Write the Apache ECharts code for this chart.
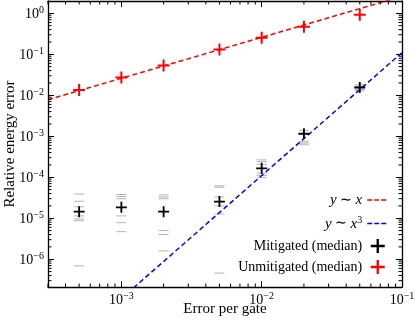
<!DOCTYPE html>
<html>
<head>
<meta charset="utf-8">
<script src="https://cdn.jsdelivr.net/npm/echarts@6/dist/echarts.min.js"></script>
<style>
html, body { margin: 0; padding: 0; background: #fff; }
#chart { width: 415px; height: 321px; }
</style>
</head>
<body>
<div id="chart"></div>
<script>
// error per gate (x)
const gateErrors = [5e-4, 1e-3, 2e-3, 5e-3, 1e-2, 2e-2, 5e-2];
const unmitigatedMedian = [0.0135, 0.027, 0.053, 0.132, 0.254, 0.47, 0.92];
const mitigatedMedian = [1.45e-5, 1.85e-5, 1.45e-5, 2.55e-5, 1.65e-4, 1.15e-3, 0.0155];
// single runs of the mitigated estimate (grey dashes), one list per gate error
const mitigatedRuns = [
    [3.9e-5, 2.6e-5, 1.9e-5, 1.14e-5, 9.6e-6, 8.7e-6, 6.9e-7],
    [3.8e-5, 3.4e-5, 3.0e-5, 1.14e-5, 7.8e-6, 4.7e-6],
    [3.7e-5, 3.3e-5, 3.0e-5, 5.0e-6, 4.0e-6, 1.6e-6],
    [6.2e-5, 5.7e-5, 3.3e-5, 2.0e-5, 1.27e-5, 4.6e-7],
    [2.65e-4, 2.4e-4, 2.07e-4, 1.26e-4, 1.1e-4, 9.8e-5],
    [1.37e-3, 1.22e-3, 7.4e-4, 6.8e-4, 6.2e-4],
    [0.018, 0.0165, 0.014, 0.013]
];
// guide lines y ~ x and y ~ x^3
const linearX = [3e-4, 0.1];
const linearY = [0.0078, 2.6];
const cubicX = [1e-3, 0.1];
const cubicY = [1.1e-7, 0.11];
// axis ranges
const xRange = [3e-4, 0.1];
const yRange = [2.1e-7, 2];

const FONT = 'Liberation Serif';
const plusPath = 'path://M5,0H7V5H12V7H7V12H5V7H0V5H5Z';

let chart = echarts.init(document.getElementById('chart'), null, {renderer: 'canvas'});

function powLabel(v) {
    let e = Math.log10(v);
    let r = Math.round(e);
    if (Math.abs(e - r) > 1e-6) {
        return '';
    }
    return '{b|10}{s|' + (r < 0 ? '\u2212' + (-r) : r) + '}';
}

let labelRich = {
    b: {fontFamily: FONT, fontSize: 14, color: '#000', verticalAlign: 'bottom', lineHeight: 15},
    s: {fontFamily: FONT, fontSize: 10, color: '#000', verticalAlign: 'bottom', padding: [0, 0, 6, 0]}
};

// minor ticks at 2..9 x 10^n inside the range
function minorValues(range) {
    let out = [];
    let lo = Math.floor(Math.log10(range[0]));
    let hi = Math.ceil(Math.log10(range[1]));
    for (let d = lo; d < hi; d++) {
        for (let k = 2; k <= 9; k++) {
            let v = k * Math.pow(10, d);
            if (v > range[0] && v < range[1]) {
                out.push(v);
            }
        }
    }
    return out;
}

function minorTicks(values, dim, len) {
    return {
        type: 'custom',
        silent: true,
        z: 5,
        clip: false,
        data: values.map(v => dim === 'x' ? [v, 1e-3] : [1e-3, v]),
        renderItem: (params, api) => {
            let cs = params.coordSys;
            let p = api.coord([api.value(0), api.value(1)]);
            let style = {stroke: '#000', lineWidth: 1};
            if (dim === 'x') {
                let b = cs.y + cs.height;
                let t = cs.y;
                return {type: 'group', children: [
                    {type: 'line', shape: {x1: p[0], y1: b, x2: p[0], y2: b - len}, style: style},
                    {type: 'line', shape: {x1: p[0], y1: t, x2: p[0], y2: t + len}, style: style}
                ]};
            }
            let l = cs.x;
            let r = cs.x + cs.width;
            return {type: 'group', children: [
                {type: 'line', shape: {x1: l, y1: p[1], x2: l + len, y2: p[1]}, style: style},
                {type: 'line', shape: {x1: r, y1: p[1], x2: r - len, y2: p[1]}, style: style}
            ]};
        }
    };
}

function logAxis(extra, range) {
    return Object.assign({
        type: 'log',
        logBase: 10,
        min: range[0],
        max: range[1],
        splitLine: {show: false},
        axisLine: {show: true, lineStyle: {color: '#000', width: 1.3}},
        axisTick: {show: true, inside: true, length: 6, lineStyle: {color: '#000', width: 1}},
        minorTick: {show: false}
    }, extra);
}

let runData = [];
gateErrors.forEach((x, i) => {
    mitigatedRuns[i].forEach(v => runData.push([x, v]));
});

// legend: dashed line only for the two guide lines
let lineLegend = name => ({name: name, itemStyle: {opacity: 0}, lineStyle: {type: [5, 2], width: 1.5}});

let option = {
    animation: false,
    backgroundColor: '#fff',
    grid: {left: 48, right: 13, top: 1, bottom: 34, containLabel: false, outerBoundsMode: 'none'},
    xAxis: [
        logAxis({
            position: 'bottom',
            name: 'Error per gate',
            nameLocation: 'middle',
            nameGap: 15,
            nameMoveOverlap: false,
            nameTextStyle: {fontFamily: FONT, fontSize: 15, color: '#000'},
            axisLabel: {formatter: powLabel, margin: 4, rich: labelRich, showMinLabel: false}
        }, xRange),
        logAxis({position: 'top', axisLabel: {show: false}}, xRange)
    ],
    yAxis: [
        logAxis({
            position: 'left',
            name: 'Relative energy error',
            nameLocation: 'middle',
            nameGap: 30,
            nameMoveOverlap: false,
            nameTextStyle: {fontFamily: FONT, fontSize: 15, color: '#000'},
            axisLabel: {formatter: powLabel, margin: 4, rich: labelRich}
        }, yRange),
        logAxis({position: 'right', axisLabel: {show: false}}, yRange)
    ],
    legend: {
        orient: 'vertical',
        right: 21,
        bottom: 42,
        align: 'right',
        itemWidth: 21,
        itemHeight: 14,
        itemGap: 7,
        data: [lineLegend('y ~ x'), lineLegend('y ~ x3'), 'Mitigated (median)', 'Unmitigated (median)'],
        formatter: name => {
            if (name === 'y ~ x') {
                return '{i|y} \u223C {i|x}';
            }
            if (name === 'y ~ x3') {
                return '{i|y} \u223C {i|x}{s|3}';
            }
            return name;
        },
        textStyle: {
            fontFamily: FONT,
            fontSize: 14,
            color: '#000',
            rich: {
                i: {fontFamily: FONT, fontSize: 15, fontStyle: 'italic', color: '#000', verticalAlign: 'bottom', lineHeight: 16},
                s: {fontFamily: FONT, fontSize: 10, color: '#000', verticalAlign: 'bottom', padding: [0, 0, 7, 0]}
            }
        }
    },
    series: [
        {
            name: 'runs',
            type: 'scatter',
            data: runData,
            symbol: 'rect',
            symbolSize: [10, 1],
            itemStyle: {color: '#a0a0a0'},
            z: 2,
            silent: true
        },
        {
            name: 'y ~ x',
            type: 'line',
            data: linearX.map((x, i) => [x, linearY[i]]),
            symbol: 'none',
            lineStyle: {color: '#ff0000', width: 1.5, type: [5, 3]},
            itemStyle: {color: '#ff0000'},
            z: 3
        },
        {
            name: 'y ~ x3',
            type: 'line',
            data: cubicX.map((x, i) => [x, cubicY[i]]),
            symbol: 'none',
            lineStyle: {color: '#0000ff', width: 1.5, type: [5, 3]},
            itemStyle: {color: '#0000ff'},
            z: 3
        },
        {
            name: 'Mitigated (median)',
            type: 'scatter',
            data: gateErrors.map((x, i) => [x, mitigatedMedian[i]]),
            symbol: plusPath,
            symbolSize: 11,
            symbolKeepAspect: true,
            itemStyle: {color: '#000', opacity: 1},
            z: 4
        },
        {
            name: 'Unmitigated (median)',
            type: 'scatter',
            data: gateErrors.map((x, i) => [x, unmitigatedMedian[i]]),
            symbol: plusPath,
            symbolSize: 12,
            symbolKeepAspect: true,
            itemStyle: {color: '#ff0000', opacity: 1},
            z: 4
        },
        minorTicks(minorValues(xRange), 'x', 3.5),
        minorTicks(minorValues(yRange), 'y', 3.5)
    ]
};

chart.setOption(option);
</script>
</body>
</html>
